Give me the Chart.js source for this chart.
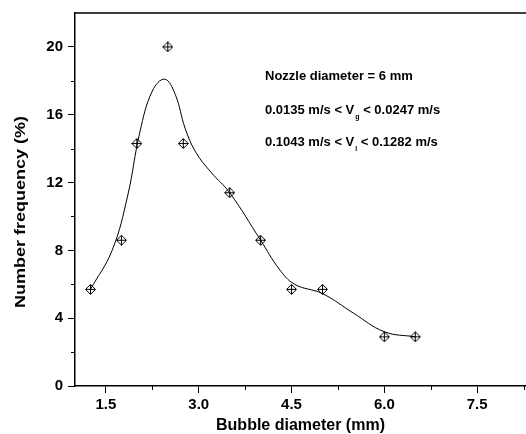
<!DOCTYPE html>
<html lang="en">
<head>
    <meta charset="UTF-8">
    <title>Bubble diameter distribution</title>
    <script src="https://cdn.jsdelivr.net/npm/chart.js"></script>
    <style>
        body { margin: 0; background: #fff; }
        #wrap { width: 526px; height: 434px; }
    </style>
</head>
<body>
<div id="wrap"><canvas id="chart" width="526" height="434"></canvas></div>

<script>
    // measured points (bubble diameter mm, number frequency %)
    const diameters = [1.25, 1.75, 2.0, 2.5, 2.75, 3.5, 4.0, 4.5, 5.0, 6.0, 6.5];
    const frequency = [5.7, 8.6, 14.3, 20.0, 14.3, 11.4, 8.6, 5.7, 5.7, 2.9, 2.9];

    // smooth fitted curve
    const curveX = [1.25, 1.6, 1.85, 2.05, 2.25, 2.45, 2.62, 2.78, 2.95, 3.2, 3.5, 4.0, 4.3, 4.55, 5.0, 5.5, 6.0, 6.5];
    const curveY = [5.7, 8.0, 11.2, 15.0, 17.4, 18.1, 17.2, 15.2, 13.8, 12.6, 11.4, 8.6, 6.9, 6.0, 5.45, 4.3, 3.2, 2.9];

    const xTicks = [1.5, 3.0, 4.5, 6.0, 7.5];
    const xMinor = [2.25, 3.75, 5.25, 6.75, 8.25];
    const yTicks = [0, 4, 8, 12, 16, 20];
    const yMinor = [2, 6, 10, 14, 18];

    const notes = [
        ['Nozzle diameter = 6 mm'],
        ['0.0135 m/s < V', 'g', ' < 0.0247 m/s'],
        ['0.1043 m/s < V', 'l', ' < 0.1282 m/s']
    ];

    const FONT = "'Liberation Sans', Arial, sans-serif";
    Chart.defaults.font.family = FONT;
    Chart.defaults.color = '#000';

    // diamond with a cross inside
    const marker = document.createElement('canvas');
    marker.width = 11; marker.height = 11;
    (function () {
        const m = marker.getContext('2d');
        m.strokeStyle = '#000';
        m.lineWidth = 1;
        m.beginPath();
        m.moveTo(5.5, 0.5); m.lineTo(10.5, 5.5); m.lineTo(5.5, 10.5); m.lineTo(0.5, 5.5); m.closePath();
        m.moveTo(5.5, 1); m.lineTo(5.5, 10);
        m.moveTo(1, 5.5); m.lineTo(10, 5.5);
        m.stroke();
    })();

    const extras = {
        id: 'extras',
        afterDraw(chart) {
            const c = chart.ctx;
            const area = chart.chartArea;
            const xs = chart.scales.x, ys = chart.scales.y;
            c.save();
            c.strokeStyle = '#000';
            // top frame line
            c.lineWidth = 1.5;
            c.beginPath();
            c.moveTo(area.left, area.top);
            c.lineTo(area.right, area.top);
            c.stroke();
            // minor ticks
            c.lineWidth = 1;
            c.beginPath();
            xMinor.forEach(v => {
                const px = Math.round(xs.getPixelForValue(v)) + 0.5;
                c.moveTo(px, area.bottom);
                c.lineTo(px, area.bottom + 4);
            });
            yMinor.forEach(v => {
                const py = Math.round(ys.getPixelForValue(v)) + 0.5;
                c.moveTo(area.left, py);
                c.lineTo(area.left - 4, py);
            });
            c.stroke();

            // annotation text
            c.fillStyle = '#000';
            c.textBaseline = 'alphabetic';
            c.textAlign = 'left';
            const base = [80, 114, 146];
            notes.forEach((parts, i) => {
                let x = 265;
                parts.forEach((p, j) => {
                    if (j === 1) {
                        c.font = 'bold 7px ' + FONT;
                        c.fillText(p, x + 1, base[i] + 4.5);
                        x += c.measureText(p).width + 1;
                    } else {
                        c.font = 'bold 13px ' + FONT;
                        c.fillText(p, x, base[i]);
                        x += c.measureText(p).width;
                    }
                });
            });

            // y axis title (stretched like the original)
            const label = 'Number frequency (%)';
            c.font = 'bold 15px ' + FONT;
            const w = c.measureText(label).width;
            c.translate(25, 212);
            c.rotate(-Math.PI / 2);
            c.scale(192 / w, 1);
            c.textAlign = 'center';
            c.fillText(label, 0, 0);
            c.restore();
        }
    };

    new Chart(document.getElementById('chart'), {
        type: 'scatter',
        data: {
            datasets: [
                {
                    type: 'line',
                    data: curveX.map((x, i) => ({ x: x, y: curveY[i] })),
                    borderColor: '#000',
                    borderWidth: 1,
                    pointRadius: 0,
                    tension: 0.4,
                    fill: false,
                    order: 2
                },
                {
                    data: diameters.map((x, i) => ({ x: x, y: frequency[i] })),
                    pointStyle: marker,
                    pointRadius: 6,
                    order: 1
                }
            ]
        },
        options: {
            responsive: false,
            animation: false,
            events: [],
            layout: { autoPadding: false, padding: { top: 13, right: 0, bottom: 0, left: 0 } },
            plugins: { legend: { display: false }, tooltip: { enabled: false } },
            scales: {
                x: {
                    type: 'linear',
                    min: 1,
                    max: 8.29,
                    afterBuildTicks: s => { s.ticks = xTicks.map(v => ({ value: v })); },
                    afterFit: s => { s.height = 48; s.paddingLeft = 0; s.paddingRight = 0; },
                    ticks: {
                        callback: v => v.toFixed(1),
                        font: { size: 15, weight: 'bold' },
                        color: '#000',
                        padding: 3,
                        maxRotation: 0,
                        autoSkip: false
                    },
                    grid: { drawOnChartArea: false, tickLength: 7, tickColor: '#000', tickWidth: 1 },
                    border: { color: '#000', width: 1.5 },
                    title: {
                        display: true,
                        text: 'Bubble diameter (mm)',
                        font: { size: 16, weight: 'bold' },
                        color: '#000',
                        padding: { top: 0, bottom: -1 }
                    }
                },
                y: {
                    min: 0,
                    max: 22,
                    afterBuildTicks: s => { s.ticks = yTicks.map(v => ({ value: v })); },
                    afterFit: s => { s.width = 75; s.paddingTop = 0; s.paddingBottom = 0; },
                    ticks: {
                        font: { size: 15, weight: 'bold' },
                        color: '#000',
                        padding: 5
                    },
                    grid: { drawOnChartArea: false, tickLength: 7, tickColor: '#000', tickWidth: 1 },
                    border: { color: '#000', width: 1.5 }
                }
            }
        },
        plugins: [extras]
    });
</script>
</body>
</html>
